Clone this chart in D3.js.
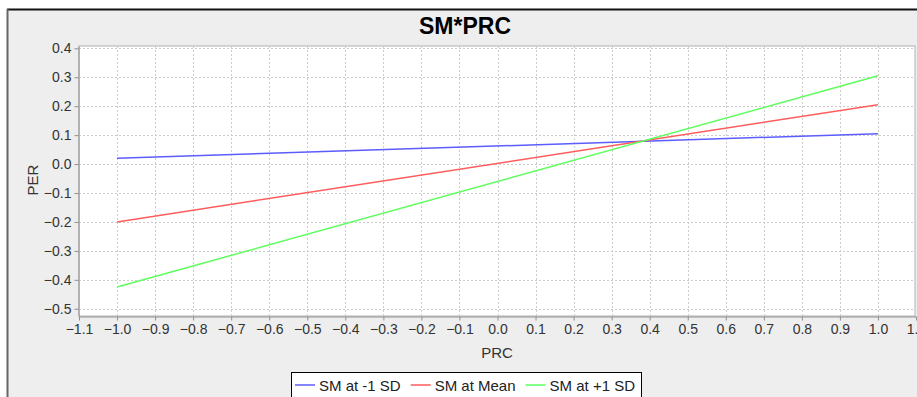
<!DOCTYPE html>
<html>
<head>
<meta charset="utf-8">
<script src="https://cdn.jsdelivr.net/npm/d3@7"></script>
<style>
  body { margin: 0; background: #fff; }
  svg { display: block; font-family: "Liberation Sans", Arial, sans-serif; }
</style>
</head>
<body>
<svg id="chart"></svg>
<script>
// data
const seriesNames = ['SM at -1 SD', 'SM at Mean', 'SM at +1 SD'];
const seriesColors = ['#5c5cff', '#ff5c5c', '#5cff5c'];
const prcValues = [-1.0, 1.0];
const perAtLow = [0.02, 0.105];
const perAtMean = [-0.2, 0.205];
const perAtHigh = [-0.425, 0.305];
const xTicks = [-1.1, -1.0, -0.9, -0.8, -0.7, -0.6, -0.5, -0.4, -0.3, -0.2, -0.1, 0.0, 0.1, 0.2, 0.3, 0.4, 0.5, 0.6, 0.7, 0.8, 0.9, 1.0, 1.1];
const yTicks = [0.4, 0.3, 0.2, 0.1, 0.0, -0.1, -0.2, -0.3, -0.4, -0.5];

const width = 917, height = 397;
const plot = {left: 79, top: 46, right: 915, bottom: 316};

const svg = d3.select('#chart')
    .attr('width', width)
    .attr('height', height);

//外框背景
svg.append('rect')
    .attr('x', 7).attr('y', 9)
    .attr('width', width).attr('height', height)
    .attr('fill', '#eeeeee');
svg.append('line')
    .attr('x1', 7).attr('x2', width).attr('y1', 9.5).attr('y2', 9.5)
    .attr('stroke', '#111').attr('stroke-width', 2);
svg.append('line')
    .attr('x1', 7.5).attr('x2', 7.5).attr('y1', 9).attr('y2', height)
    .attr('stroke', '#666').attr('stroke-width', 2);

const xScale = d3.scaleLinear()
    .domain([-1.1, 1.1])
    .range([plot.left, 916]);

const yScale = d3.scaleLinear()
    .domain([-0.525, 0.408])
    .range([plot.bottom, plot.top]);

const fmt = d3.format('.1f');

svg.append('rect')
    .attr('x', plot.left).attr('y', plot.top)
    .attr('width', plot.right - plot.left).attr('height', plot.bottom - plot.top)
    .attr('fill', '#fff')
    .attr('stroke', '#b0b0b0');

//grid
svg.append('g')
    .selectAll('line')
    .data(xTicks.filter(d => d > -1.05 && d < 1.05))
    .enter()
    .append('line')
    .attr('x1', d => Math.round(xScale(d)) + 0.5)
    .attr('x2', d => Math.round(xScale(d)) + 0.5)
    .attr('y1', plot.top).attr('y2', plot.bottom)
    .attr('stroke', '#cccccc')
    .attr('stroke-dasharray', '2,2');

svg.append('g')
    .selectAll('line')
    .data(yTicks)
    .enter()
    .append('line')
    .attr('y1', d => Math.round(yScale(d)) + 0.5)
    .attr('y2', d => Math.round(yScale(d)) + 0.5)
    .attr('x1', plot.left).attr('x2', plot.right)
    .attr('stroke', '#cccccc')
    .attr('stroke-dasharray', '2,2');

//axes
const xAxis = d3.axisBottom(xScale)
    .tickValues(xTicks)
    .tickFormat(fmt)
    .tickSize(4)
    .tickSizeOuter(0);
const yAxis = d3.axisLeft(yScale)
    .tickValues(yTicks)
    .tickFormat(fmt)
    .tickSize(4)
    .tickSizeOuter(0);

const gx = svg.append('g')
    .attr('transform', `translate(0, ${plot.bottom + 0.5})`)
    .call(xAxis);
const gy = svg.append('g')
    .attr('transform', `translate(${plot.left - 0.5}, 0)`)
    .call(yAxis);

[gx, gy].forEach(g => {
    g.attr('font-size', 14).attr('font-family', '"Liberation Sans", Arial, sans-serif');
    g.select('.domain').attr('stroke', '#909090');
    g.selectAll('.tick line').attr('stroke', '#909090');
    g.selectAll('.tick text').attr('fill', '#333');
});
gx.selectAll('.tick text').attr('dy', '0.71em').attr('y', 8);
gy.selectAll('.tick text').attr('x', -7);

//lines
const lineGen = d3.line()
    .x(d => xScale(d[0]))
    .y(d => yScale(d[1]));

[perAtLow, perAtMean, perAtHigh].forEach((vals, i) => {
    svg.append('path')
        .datum(prcValues.map((x, j) => [x, vals[j]]))
        .attr('d', lineGen)
        .attr('fill', 'none')
        .attr('stroke', seriesColors[i])
        .attr('stroke-width', 1.5);
});

//title and axis labels
svg.append('text')
    .attr('x', 465).attr('y', 34)
    .attr('text-anchor', 'middle')
    .attr('font-weight', 'bold')
    .attr('font-size', 23)
    .attr('fill', '#000')
    .text('SM*PRC');

svg.append('text')
    .attr('x', 497).attr('y', 358)
    .attr('text-anchor', 'middle')
    .attr('font-size', 15)
    .attr('fill', '#333')
    .text('PRC');

svg.append('text')
    .attr('transform', 'translate(38, 180) rotate(-90)')
    .attr('text-anchor', 'middle')
    .attr('font-size', 15)
    .attr('fill', '#333')
    .text('PER');

//legend
const legend = svg.append('g');
legend.append('rect')
    .attr('x', 291.5).attr('y', 372.5)
    .attr('width', 350).attr('height', 30)
    .attr('fill', '#fff')
    .attr('stroke', '#000');

let lx = 295;
seriesNames.forEach((name, i) => {
    legend.append('line')
        .attr('x1', lx).attr('x2', lx + 20)
        .attr('y1', 385).attr('y2', 385)
        .attr('stroke', seriesColors[i])
        .attr('stroke-width', 1.5);
    const t = legend.append('text')
        .attr('x', lx + 24).attr('y', 390.5)
        .attr('font-size', 15)
        .attr('fill', '#222')
        .text(name);
    lx += 24 + t.node().getComputedTextLength() + 10;
});
</script>
</body>
</html>
